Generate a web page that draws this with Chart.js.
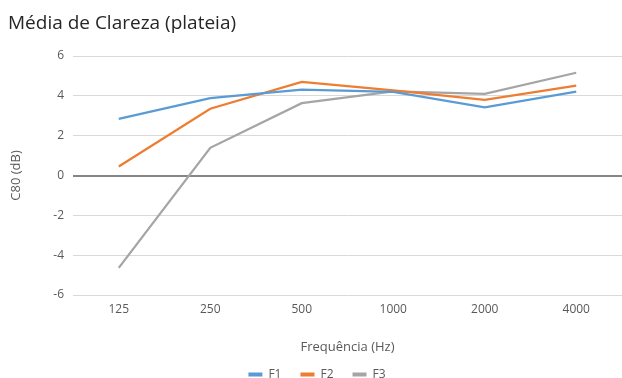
<!DOCTYPE html>
<html lang="pt">
<head>
<meta charset="UTF-8" />
<title>Média de Clareza (plateia)</title>
<style>
  body {
    margin: 0;
    background: #fff;
    overflow: hidden;
  }
</style>
</head>
<body>
<canvas id="chart" width="622" height="378"></canvas>

<script src="https://cdn.jsdelivr.net/npm/chart.js"></script>
<script>
  // values
  const frequencies = ['125', '250', '500', '1000', '2000', '4000'];
  const f1 = [2.84, 3.88, 4.31, 4.2, 3.42, 4.21];
  const f2 = [0.45, 3.35, 4.7, 4.27, 3.8, 4.51];
  const f3 = [-4.64, 1.39, 3.63, 4.22, 4.1, 5.16];

  const FONT = "'Open Sans', 'Noto Sans', sans-serif";
  const TEXT = '#595959';

  function series(label, data, color) {
    return {
      label: label,
      data: data,
      borderColor: color,
      backgroundColor: color,
      borderWidth: 2.25,
      pointRadius: 0,
      tension: 0,
      fill: false
    };
  }

  new Chart(document.getElementById('chart'), {
    type: 'line',
    data: {
      labels: frequencies,
      datasets: [
        series('F1', f1, '#5B9BD5'),
        series('F2', f2, '#ED7D31'),
        series('F3', f3, '#A5A5A5')
      ]
    },
    options: {
      responsive: false,
      animation: false,
      // the original plot is cropped on the right and the legend sits very low,
      // so let the layout run a little past the canvas edges
      layout: { padding: { left: 8, right: -4, top: 0, bottom: -12.5 } },
      plugins: {
        tooltip: { enabled: false },
        title: {
          display: true,
          text: 'Média de Clareza (plateia)',
          align: 'start',
          color: '#262626',
          font: { family: FONT, size: 19, weight: 'normal' },
          padding: { top: 12.6, bottom: 20.6 }
        },
        legend: {
          position: 'bottom',
          labels: {
            color: TEXT,
            font: { family: FONT, size: 12 },
            boxWidth: 14,
            boxHeight: 4,
            padding: 19,
            generateLabels: (chart) => {
              const items = Chart.defaults.plugins.legend.labels.generateLabels(chart);
              items.forEach(it => { it.lineWidth = 0; it.strokeStyle = 'transparent'; });
              return items;
            }
          }
        }
      },
      scales: {
        x: {
          offset: true,
          grid: { display: false, drawTicks: false },
          border: { display: false },
          ticks: { color: TEXT, font: { family: FONT, size: 12 }, padding: 7 },
          title: {
            display: true,
            text: 'Frequência (Hz)',
            color: TEXT,
            font: { family: FONT, size: 13 },
            padding: { top: 0, bottom: -6 }
          },
          afterFit: (scale) => { scale.height = 54.5; }
        },
        y: {
          min: -6,
          max: 6,
          border: { display: false },
          grid: {
            drawTicks: false,
            color: (ctx) => ctx.tick && ctx.tick.value === 0 ? '#868686' : '#d9d9d9',
            lineWidth: (ctx) => ctx.tick && ctx.tick.value === 0 ? 2 : 1
          },
          ticks: { stepSize: 2, color: TEXT, font: { family: FONT, size: 12 }, padding: 9 },
          title: {
            display: true,
            text: 'C80 (dB)',
            color: TEXT,
            font: { family: FONT, size: 13 },
            padding: { top: 0, bottom: 0 }
          },
          afterFit: (scale) => { scale.width = 65; }
        }
      }
    }
  });
</script>
</body>
</html>
